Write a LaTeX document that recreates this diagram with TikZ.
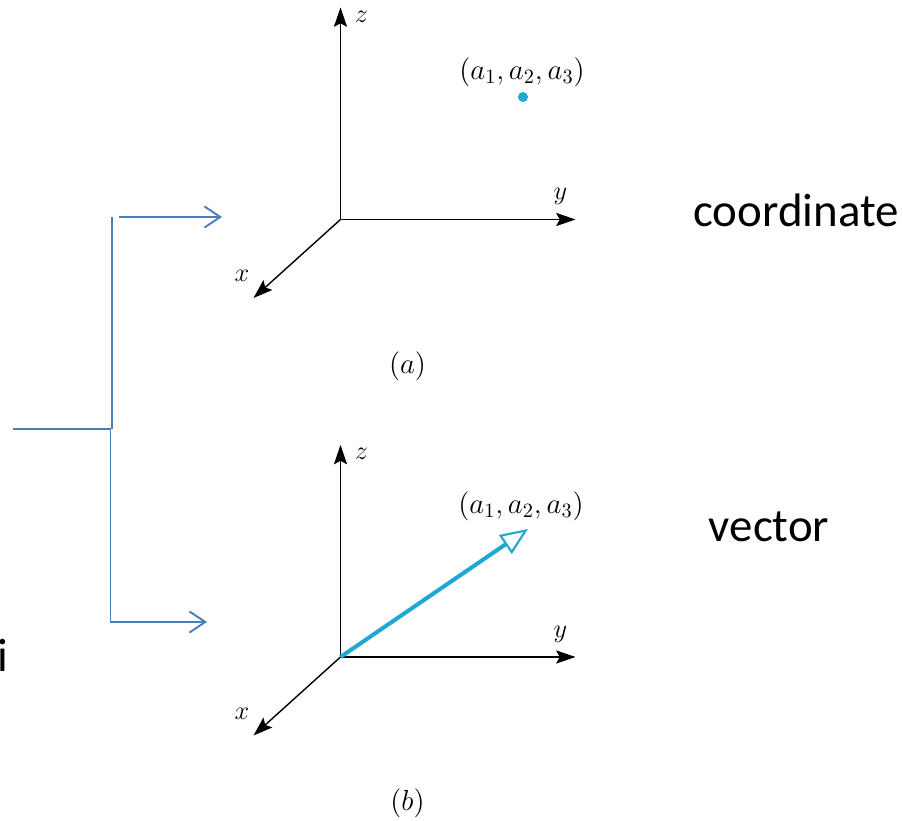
\RequirePackage{fix-cm}
\documentclass[tikz,border=0pt]{standalone}
\usepackage{fontspec}
\setmainfont{Carlito}
\usepackage{tikz}
\usetikzlibrary{arrows.meta,positioning}
\definecolor{figCyan}{HTML}{1FA8D2}
\definecolor{figBlue}{HTML}{4A7EBB}

\begin{document}
\begin{tikzpicture}[every node/.style={font=\fontsize{26.7}{32}\selectfont},
    axis/.style={line width=0.8pt, -{Stealth[length=11pt,width=7.5pt,inset=2pt]}},
    axlabel/.style={font=\fontsize{15}{18}\selectfont},
    ptlabel/.style={font=\fontsize{16.5}{19}\selectfont},
    bracket/.style={figBlue, line width=1.1pt},
    pointer/.style={-{Straight Barb[length=9pt,width=12pt]}}]

    \useasboundingbox (0,0) rectangle (18.06,16.42);

    % === Axes of the two figures (a) and (b) ===
    \foreach \tag/\oy in {a/12.03, b/3.28} {
      \begin{scope}[shift={(6.81,\oy)}]
        \coordinate (O\tag) at (0,0);
        \draw[axis] (0,0) -- (0,4.24);
        \draw[axis] (0,0) -- (4.70,0);
        \draw[axis] (0,0) -- (-1.74,-1.57);
        \node[axlabel] (z\tag) at (0.42,4.06) {$z$};
        \node[axlabel] (y\tag) at (4.40,0.46) {$y$};
        \node[axlabel] (x\tag) at (-1.97,-1.13) {$x$};
        \node[ptlabel] (cap\tag) at (1.34,-2.93) {$(\tag)$};
      \end{scope}
    }

    % === (a): the point ===
    \node[circle, fill=figCyan, inner sep=0pt, minimum size=0.2cm] (pt) at (10.46,14.48) {};
    \node[ptlabel] (ptlab) at (10.44,14.98) {$(a_1, a_2, a_3)$};

    % === (b): the vector ===
    \coordinate (tip) at (10.56,5.84);
    \draw[figCyan, line width=2.3pt,
          -{Triangle[open, length=0.55cm, width=0.45cm, line width=1.2pt]}]
      (Ob) -- (tip);
    \node[ptlabel] (veclab) at (10.42,6.30) {$(a_1, a_2, a_3)$};

    % === Words on the right ===
    \node[anchor=base] (coord) at (15.92,11.88) {coordinate};
    \node[anchor=base] (vect) at (15.38,5.58) {vector};
    \node[anchor=base west, inner sep=0pt] (cut) at (-0.05,2.98) {i};

    % === Bracket pointing to both figures ===
    \coordinate (src) at (0.26,7.84);
    \coordinate (fork) at (2.21,7.84);
    \coordinate (toA) at (4.44,12.08);
    \coordinate (toB) at (4.14,3.98);
    \draw[bracket, pointer] (src) -- (fork) |- (toB);
    \draw[bracket] ([xshift=0.03cm]fork) -- ([xshift=0.03cm]fork |- toA);
    \draw[bracket, pointer] ([xshift=0.17cm]fork |- toA) -- (toA);
\end{tikzpicture}
\end{document}
